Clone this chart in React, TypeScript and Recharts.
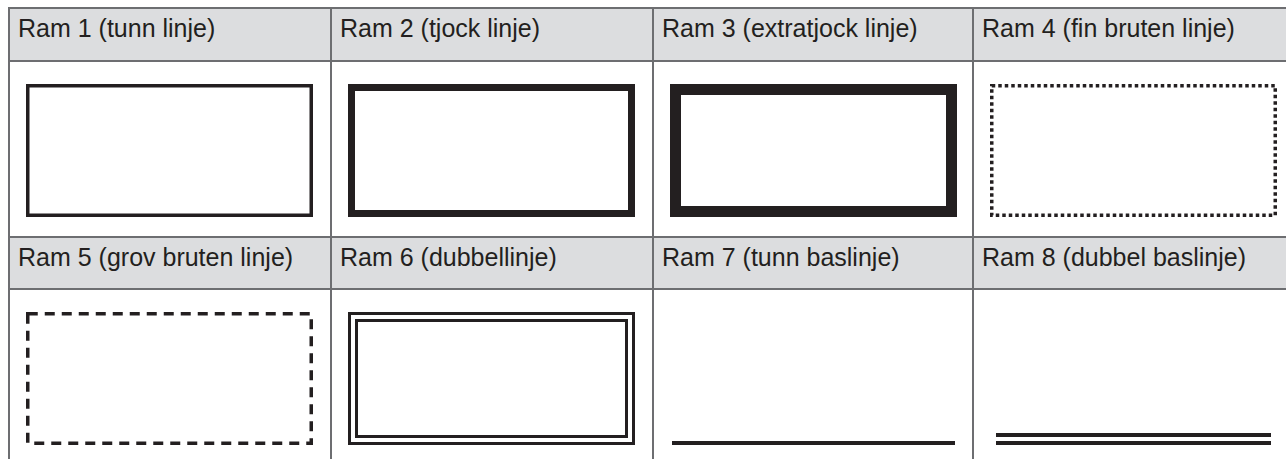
import { LineChart, Line, XAxis, YAxis } from 'recharts';

// frame styles, one entry per cell (reading order)
const frameLabels = [
  'Ram 1 (tunn linje)',
  'Ram 2 (tjock linje)',
  'Ram 3 (extratjock linje)',
  'Ram 4 (fin bruten linje)',
  'Ram 5 (grov bruten linje)',
  'Ram 6 (dubbellinje)',
  'Ram 7 (tunn baslinje)',
  'Ram 8 (dubbel baslinje)',
];
const frameKinds = ['box', 'box', 'box', 'box', 'box', 'double', 'base', 'doubleBase'];
const lineWidths = [3.5, 7, 11, 3.5, 3.5, 3, 4, 4];
const gapWidths = [0, 0, 0, 0, 0, 4, 0, 4];
const dashPatterns = [undefined, undefined, undefined, '3.5 3', '10 7', undefined, undefined, undefined];

// outline corners in a unit frame
const boxX = [0, 1, 1, 0];
const boxY = [1, 1, 0, 0];
const baseX = [0, 1];
const baseY = [0, 0];

const INK = '#231f20';
const RULE = '#6d6e71';
const HEAD_BG = '#dcdddf';

const colLeft = [0, 322, 644, 964];
const colWidth = [322, 322, 320, 330];
const CELL_H = 176;
const BOX = { left: 18, top: 24, w: 287, h: 133 };

function FrameCell({ index, width }: { index: number; width: number }) {
  const kind = frameKinds[index];
  const isDouble = kind === 'double' || kind === 'doubleBase';
  const isBase = kind === 'base' || kind === 'doubleBase';
  const sw = isDouble ? lineWidths[index] * 2 + gapWidths[index] : lineWidths[index];
  const half = sw / 2;
  const data = isBase
    ? baseX.map((x, i) => ({ x, y: baseY[i] }))
    : boxX.map((x, i) => ({ x, y: boxY[i] }));
  const curve = isBase ? 'linear' : 'linearClosed';

  return (
    <LineChart
      width={width}
      height={CELL_H}
      data={data}
      margin={{
        top: BOX.top + half,
        left: BOX.left + half,
        right: width - BOX.left - BOX.w + half,
        bottom: CELL_H - BOX.top - BOX.h + half,
      }}
    >
      <XAxis dataKey="x" type="number" domain={[0, 1]} hide />
      <YAxis type="number" domain={[0, 1]} hide />
      <Line
        dataKey="y"
        type={curve}
        stroke={INK}
        strokeWidth={sw}
        strokeDasharray={dashPatterns[index]}
        strokeLinejoin="miter"
        dot={false}
        activeDot={false}
        isAnimationActive={false}
      />
      {isDouble && (
        <Line
          dataKey="y"
          type={curve}
          stroke="#ffffff"
          strokeWidth={gapWidths[index]}
          strokeLinejoin="miter"
          dot={false}
          activeDot={false}
          isAnimationActive={false}
        />
      )}
    </LineChart>
  );
}

export default function App() {
  const rows = [
    { headTop: 0, headH: 53, bodyTop: 53 },
    { headTop: 229, headH: 52, bodyTop: 281 },
  ];

  return (
    <div
      style={{
        position: 'fixed',
        left: 8,
        top: 7,
        width: 1278,
        height: 452,
        overflow: 'hidden',
        background: '#fff',
        fontFamily: '"Liberation Sans", Arial, sans-serif',
      }}
    >
      {rows.map((row, r) =>
        colLeft.map((left, c) => {
          const index = r * 4 + c;
          return (
            <div key={index}>
              <div
                style={{
                  position: 'absolute',
                  boxSizing: 'border-box',
                  left,
                  top: row.headTop,
                  width: colWidth[c],
                  height: row.headH,
                  background: HEAD_BG,
                  borderLeft: `2px solid ${RULE}`,
                  borderTop: `2px solid ${RULE}`,
                }}
              >
                <div
                  style={{
                    position: 'absolute',
                    left: 8,
                    top: 7,
                    fontSize: 25,
                    lineHeight: '25px',
                    color: INK,
                    whiteSpace: 'nowrap',
                  }}
                >
                  {frameLabels[index]}
                </div>
              </div>
              <div
                style={{
                  position: 'absolute',
                  boxSizing: 'border-box',
                  left,
                  top: row.bodyTop,
                  width: colWidth[c],
                  height: CELL_H,
                  background: '#fff',
                  borderLeft: `2px solid ${RULE}`,
                  borderTop: `2px solid ${RULE}`,
                }}
              >
                <div style={{ position: 'absolute', left: -2, top: -2 }}>
                  <FrameCell index={index} width={colWidth[c]} />
                </div>
              </div>
            </div>
          );
        })
      )}
    </div>
  );
}
